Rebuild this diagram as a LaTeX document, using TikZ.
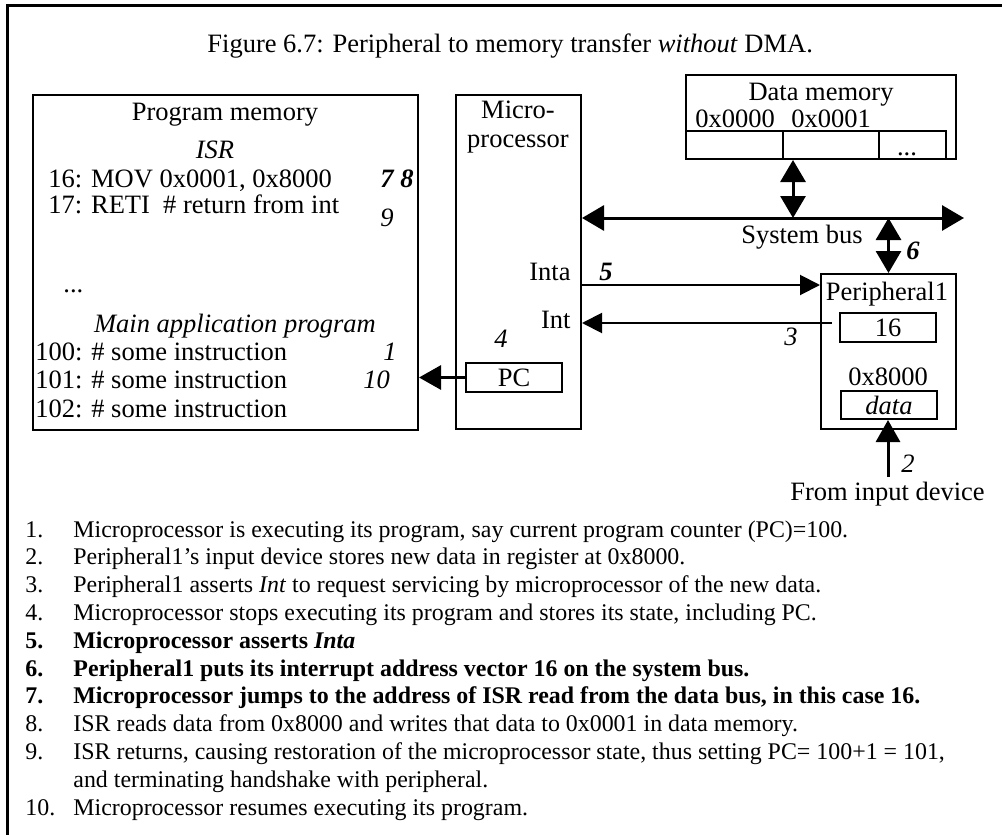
\documentclass[tikz,border=0pt]{standalone}
\usepackage{fontspec}
\setmainfont{Liberation Serif}
\usepackage{tikz}
\usetikzlibrary{arrows.meta}
\newcommand{\figfont}{\fontsize{13.25pt}{13.9pt}\selectfont}
\newcommand{\listfont}{\fontsize{11.95pt}{13.9pt}\selectfont}
\tikzset{
  box/.style={draw, line width=1pt, inner sep=0pt},
  busarrow/.style={line width=1.5pt, {Triangle[length=11pt,width=12.5pt]}-{Triangle[length=11pt,width=12.5pt]}},
  sigarrow/.style={line width=1pt, -{Triangle[length=10pt,width=10pt]}},
  pcarrow/.style={line width=1.5pt, -{Triangle[length=11pt,width=12pt]}},
  lbl/.style={anchor=base},
  lblw/.style={anchor=base west},
  lble/.style={anchor=base east},
  steptext/.style={anchor=base west, font=\listfont}
}

\begin{document}
\begin{tikzpicture}[x=0.5pt, y=-0.5pt, every node/.style={font=\figfont, inner sep=0pt}]
\useasboundingbox (0,0) rectangle (1002,835);
% Frame (top and left only)
\draw[line width=1.5pt] (1002,5) -- (7,5) -- (7,835);
% Title
\node[lblw] (title) at (207,52) {Figure 6.7: Peripheral to memory transfer \textit{without} DMA.};

% Program memory
\node[box, minimum width=192.5pt, minimum height=167.5pt] (progmem) at (225.5,262.5) {};
\node[lbl] (pmtitle) at (225,120) {Program memory};
\node[lbl] (isr) at (215,158) {\textit{ISR}};
\node[lblw] (l16) at (48,187) {16: MOV 0x0001, 0x8000};
\node[lblw] (s78) at (380,187) {\textbf{\textit{7 8}}};
\node[lblw] (l17) at (48,213) {17: RETI~~\# return from int};
\node[lblw] (s9) at (380,226) {\textit{9}};
\node[lblw] (pmdots) at (63,292) {...};
\node[lbl] (mainprog) at (235,332) {\textit{Main application program}};
\node[lblw] (l100) at (35,360) {100: \# some instruction};
\node[lblw] (s1) at (383,360) {\textit{1}};
\node[lblw] (l101) at (35,388) {101: \# some instruction};
\node[lblw] (s10) at (363,388) {\textit{10}};
\node[lblw] (l102) at (35,417) {102: \# some instruction};

% Microprocessor
\node[box, minimum width=62.5pt, minimum height=167pt] (micro) at (518.5,262) {};
\node[lbl] (mpa) at (518,118) {Micro-};
\node[lbl] (mpb) at (518,147) {processor};
\node[lble] (inta) at (571,280) {Inta};
\node[lble] (int) at (571,328) {Int};
\node[lbl] (s4) at (501,347) {\textit{4}};
\node[box, minimum width=48pt, minimum height=14.5pt] (pc) at (514,377.5) {PC};

% Data memory
\node[box, minimum width=135pt, minimum height=42pt] (datamem) at (821,117) {};
\node[lbl] (dmtitle) at (821,100) {Data memory};
\node[lblw] (a0) at (695,127) {0x0000};
\node[lblw] (a1) at (791,127) {0x0001};
\node[box, minimum width=48.5pt, minimum height=14pt] (cell0) at (734.5,145) {};
\node[box, minimum width=48pt, minimum height=14pt] (cell1) at (831,145) {};
\node[box, minimum width=33.5pt, minimum height=14pt] (cell2) at (912.5,145) {};
\node[lbl] (celldots) at (907,155) {...};

% System bus
\coordinate (busend) at (964,218);
\coordinate (dmtap) at (793,218);
\draw[busarrow] (micro.east |- busend) -- (busend);
\draw[busarrow] (dmtap) -- (dmtap |- datamem.south);
\node[lbl] (sysbus) at (802,243) {System bus};

% Peripheral1
\node[box, minimum width=67.5pt, minimum height=77.5pt] (periph) at (888.5,351.5) {};
\draw[busarrow] (periph.north |- busend) -- (periph.north);
\node[lbl] (s6) at (913,259) {\textbf{\textit{6}}};
\node[lbl] (pname) at (887,300) {Peripheral1};
\node[box, minimum width=48pt, minimum height=14.5pt] (vec) at (888,327.5) {16};
\node[lbl] (paddr) at (888,385) {0x8000};
\node[box, minimum width=48pt, minimum height=14pt] (dreg) at (889,405) {\textit{data}};

% Inta / Int
\coordinate (intay) at (0,285);
\coordinate (intsrc) at (832,323);
\draw[sigarrow] (micro.east |- intay) -- (periph.west |- intay);
\draw[sigarrow] (intsrc) -- (micro.east |- intsrc);
\node[lbl] (s5) at (606,280) {\textbf{\textit{5}}};
\node[lbl] (s3) at (791,345) {\textit{3}};

% PC -> program memory
\draw[pcarrow] (pc.west) -- (progmem.east |- pc.west);

% Input device
\coordinate (indev) at (888,477);
\draw[pcarrow] (indev) -- (indev |- dreg.south);
\node[lbl] (s2) at (908,472) {\textit{2}};
\node[lbl] (fromdev) at (887.5,500) {From input device};

% Steps
\foreach \n/\y in {1/537, 2/564.8, 3/592.6, 4/620.4, 8/731.6, 9/759.4, 10/815}
  \node[steptext] (num\n) at (25,\y) {\n.};
\foreach \n/\y in {5/648.2, 6/676, 7/703.8}
  \node[steptext] (num\n) at (25,\y) {\textbf{\n.}};
\node[steptext] (t1) at (73,537) {Microprocessor is executing its program, say current program counter (PC)=100.};
\node[steptext] (t2) at (73,564.8) {Peripheral1's input device stores new data in register at 0x8000.};
\node[steptext] (t3) at (73,592.6) {Peripheral1 asserts \textit{Int} to request servicing by microprocessor of the new data.};
\node[steptext] (t4) at (73,620.4) {Microprocessor stops executing its program and stores its state, including PC.};
\node[steptext] (t5) at (73,648.2) {\textbf{Microprocessor asserts \textit{Inta}}};
\node[steptext] (t6) at (73,676) {\textbf{Peripheral1 puts its interrupt address vector 16 on the system bus.}};
\node[steptext] (t7) at (73,703.8) {\textbf{Microprocessor jumps to the address of ISR read from the data bus, in this case 16.}};
\node[steptext] (t8) at (73,731.6) {ISR reads data from 0x8000 and writes that data to 0x0001 in data memory.};
\node[steptext] (t9) at (73,759.4) {ISR returns, causing restoration of the microprocessor state, thus setting PC= 100+1 = 101,};
\node[steptext] (t9b) at (73,787.2) {and terminating handshake with peripheral.};
\node[steptext] (t10) at (73,815) {Microprocessor resumes executing its program.};
\end{tikzpicture}
\end{document}
